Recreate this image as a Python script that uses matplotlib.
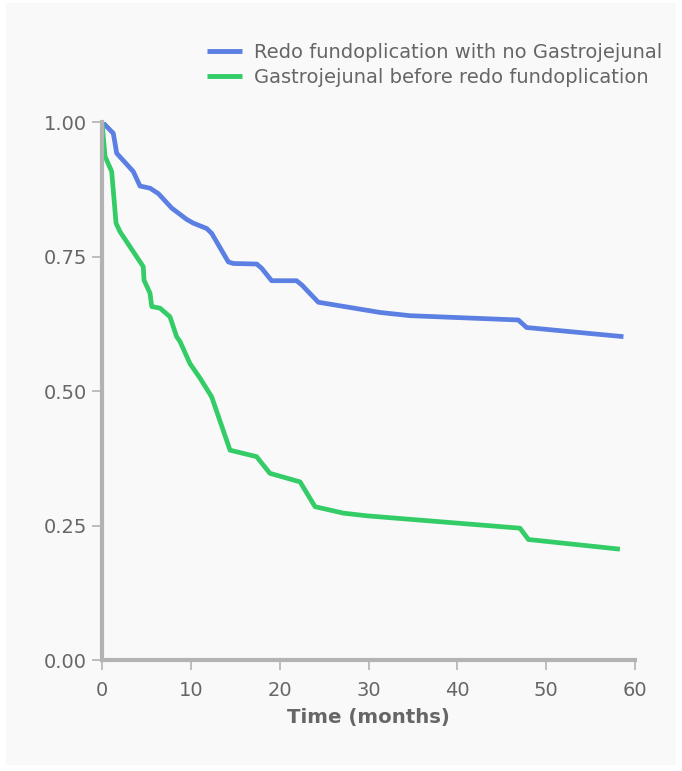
import matplotlib
matplotlib.use("Agg")
import matplotlib.pyplot as plt
from matplotlib.patches import Rectangle

# ---- data ----
blue_label = "Redo fundoplication with no Gastrojejunal"
green_label = "Gastrojejunal before redo fundoplication"

blue_t = [0.0, 0.15, 1.27, 1.46, 1.65, 3.52, 4.28, 5.4, 6.34, 7.85, 9.53, 10.28,
          11.79, 12.35, 14.22, 14.78, 17.42, 17.98, 19.1, 21.9, 22.5, 24.35,
          31.3, 34.67, 46.87, 47.8, 58.7]
blue_s = [1.0, 0.998, 0.979, 0.961, 0.942, 0.908, 0.881, 0.877, 0.867, 0.840,
          0.819, 0.812, 0.802, 0.793, 0.740, 0.737, 0.736, 0.728, 0.705, 0.705,
          0.697, 0.665, 0.646, 0.640, 0.632, 0.618, 0.601]

green_t = [0.0, 0.34, 1.09, 1.58, 2.03, 4.65, 4.73, 5.4, 5.6, 6.53, 7.65, 8.4,
           8.78, 9.9, 11.03, 12.35, 14.41, 17.4, 18.9, 22.3, 23.98, 27.17,
           29.8, 47.05, 48.0, 58.3]
green_s = [1.0, 0.936, 0.908, 0.812, 0.796, 0.731, 0.706, 0.682, 0.657, 0.654,
           0.638, 0.601, 0.592, 0.551, 0.524, 0.489, 0.390, 0.378, 0.347, 0.331,
           0.285, 0.273, 0.268, 0.245, 0.224, 0.206]

x_ticks = [0, 10, 20, 30, 40, 50, 60]
y_ticks = [0.0, 0.25, 0.5, 0.75, 1.0]
y_tick_labels = ["0.00", "0.25", "0.50", "0.75", "1.00"]
x_label = "Time (months)"

# ---- styling ----
plt.rcParams['font.family'] = ['DejaVu Sans']
BLUE = "#5b7fe2"
GREEN = "#33cc66"
AXIS = "#b3b3b3"
TEXT = "#666666"

fig = plt.figure(figsize=(6.82, 7.71), dpi=100, facecolor="white")
bg = Rectangle((6 / 682, 1 - 765 / 771), 670 / 682, 762 / 771,
               transform=fig.transFigure, facecolor="#f9f9f9",
               edgecolor="none", zorder=-10)
fig.add_artist(bg)

ax = fig.add_axes([102 / 682, 111 / 771, 533 / 682, 538 / 771])
ax.set_facecolor("none")
ax.set_zorder(1)

ax.plot(blue_t, blue_s, color=BLUE, lw=3.4, solid_joinstyle="round",
        solid_capstyle="butt", label=blue_label, zorder=3)
ax.plot(green_t, green_s, color=GREEN, lw=3.4, solid_joinstyle="round",
        solid_capstyle="butt", label=green_label, zorder=3)

ax.set_xlim(0, 60)
ax.set_ylim(0, 1)
ax.set_xticks(x_ticks)
ax.set_yticks(y_ticks)
ax.set_yticklabels(y_tick_labels)

for side in ("top", "right"):
    ax.spines[side].set_visible(False)
for side in ("left", "bottom"):
    ax.spines[side].set_color(AXIS)
    ax.spines[side].set_linewidth(3.0)
ax.spines["left"].set_zorder(4)

ax.tick_params(axis="both", colors=AXIS, labelcolor=TEXT, labelsize=14,
               width=1.2, length=7, direction="out")
ax.tick_params(axis="y", pad=4)
ax.tick_params(axis="x", pad=8)

ax.set_xlabel(x_label, fontsize=14.2, fontweight="bold", color=TEXT, labelpad=6)

leg = ax.legend(loc="upper right", bbox_to_anchor=(662 / 682, 1 - 43 / 771),
                bbox_transform=fig.transFigure, frameon=False, fontsize=14,
                handlelength=1.8, handletextpad=0.6, labelspacing=0.3,
                borderpad=0, borderaxespad=0)
for t in leg.get_texts():
    t.set_color(TEXT)
for l in leg.get_lines():
    l.set_linewidth(3.5)

fig.savefig("out.png", dpi=100, facecolor="white")
